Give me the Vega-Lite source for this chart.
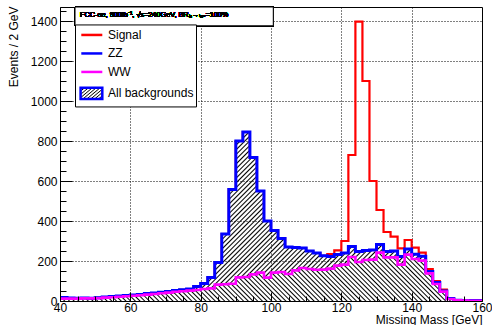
{
"$schema":"https://vega.github.io/schema/vega-lite/v6.json",
"width":422,"height":294,
"autosize":{"type":"none"},
"padding":{"left":60,"top":7,"right":10,"bottom":24},
"background":"#ffffff",
"config":{"view":{"stroke":"#000","strokeWidth":1},"font":"Liberation Sans",
"axis":{"labelFont":"Liberation Sans","titleFont":"Liberation Sans","labelColor":"#000","titleColor":"#000","tickColor":"#000","domainColor":"#000","titleFontWeight":"normal","labelFontSize":12,"titleFontSize":12,"labelFlush":false,"labelOverlap":false,"format":"d"}},
"data":{"values":[
{"m":40,"ZZ":17,"WW":12,"Signal":17},{"m":42,"ZZ":15,"WW":12,"Signal":15},{"m":44,"ZZ":14,"WW":12,"Signal":14},{"m":46,"ZZ":15,"WW":13,"Signal":15},{"m":48,"ZZ":14,"WW":13,"Signal":14},
{"m":50,"ZZ":16,"WW":14,"Signal":16},{"m":52,"ZZ":20,"WW":17,"Signal":20},{"m":54,"ZZ":22,"WW":19,"Signal":22},{"m":56,"ZZ":25,"WW":21,"Signal":25},{"m":58,"ZZ":28,"WW":24,"Signal":28},
{"m":60,"ZZ":30,"WW":26,"Signal":30},{"m":62,"ZZ":33,"WW":29,"Signal":33},{"m":64,"ZZ":37,"WW":32,"Signal":37},{"m":66,"ZZ":40,"WW":35,"Signal":40},{"m":68,"ZZ":44,"WW":39,"Signal":44},
{"m":70,"ZZ":48,"WW":42,"Signal":48},{"m":72,"ZZ":52,"WW":46,"Signal":52},{"m":74,"ZZ":56,"WW":49,"Signal":56},{"m":76,"ZZ":60,"WW":52,"Signal":60},{"m":78,"ZZ":73,"WW":55,"Signal":73},
{"m":80,"ZZ":87,"WW":60,"Signal":87},{"m":82,"ZZ":117,"WW":63,"Signal":117},{"m":84,"ZZ":192,"WW":82,"Signal":192},{"m":86,"ZZ":335,"WW":84,"Signal":335},{"m":88,"ZZ":558,"WW":86,"Signal":558},
{"m":90,"ZZ":800,"WW":118,"Signal":800},{"m":92,"ZZ":845,"WW":120,"Signal":845},{"m":94,"ZZ":717,"WW":133,"Signal":717},{"m":96,"ZZ":550,"WW":142,"Signal":550},{"m":98,"ZZ":400,"WW":117,"Signal":400},
{"m":100,"ZZ":352,"WW":142,"Signal":352},{"m":102,"ZZ":312,"WW":145,"Signal":312},{"m":104,"ZZ":270,"WW":135,"Signal":270},{"m":106,"ZZ":268,"WW":153,"Signal":268},{"m":108,"ZZ":265,"WW":165,"Signal":265},
{"m":110,"ZZ":250,"WW":160,"Signal":250},{"m":112,"ZZ":240,"WW":156,"Signal":240},{"m":114,"ZZ":226,"WW":157,"Signal":226},{"m":116,"ZZ":222,"WW":162,"Signal":235},{"m":118,"ZZ":232,"WW":177,"Signal":253},
{"m":120,"ZZ":240,"WW":182,"Signal":300},{"m":122,"ZZ":272,"WW":220,"Signal":730},{"m":124,"ZZ":248,"WW":195,"Signal":1397},{"m":126,"ZZ":252,"WW":205,"Signal":1100},{"m":128,"ZZ":255,"WW":207,"Signal":600},
{"m":130,"ZZ":282,"WW":242,"Signal":455},{"m":132,"ZZ":247,"WW":218,"Signal":345},{"m":134,"ZZ":250,"WW":218,"Signal":322},{"m":136,"ZZ":223,"WW":182,"Signal":263},{"m":138,"ZZ":260,"WW":232,"Signal":305},
{"m":140,"ZZ":234,"WW":210,"Signal":267},{"m":142,"ZZ":224,"WW":202,"Signal":242},{"m":144,"ZZ":148,"WW":138,"Signal":160},{"m":146,"ZZ":92,"WW":85,"Signal":100},{"m":148,"ZZ":50,"WW":47,"Signal":57},
{"m":150,"ZZ":13,"WW":10,"Signal":14},{"m":152,"ZZ":4,"WW":3,"Signal":4},{"m":154,"ZZ":3,"WW":2,"Signal":3},{"m":156,"ZZ":2,"WW":1,"Signal":2},{"m":158,"ZZ":2,"WW":1,"Signal":2},
{"m":160,"ZZ":2,"WW":1,"Signal":2}
]},
"resolve":{"axis":{"x":"independent","y":"independent"}},
"layer":[
{"mark":{"type":"area","interpolate":"step-after","fill":{"gradient":"linear","x1":0,"y1":0,"x2":1.2069,"y2":0.4834,"stops":[
{"offset":0,"color":"#000"},{"offset":0.0025,"color":"rgba(0,0,0,0)"},{"offset":0.0055,"color":"rgba(0,0,0,0)"},
{"offset":0.008,"color":"#000"},{"offset":0.0105,"color":"rgba(0,0,0,0)"},{"offset":0.0135,"color":"rgba(0,0,0,0)"},
{"offset":0.016,"color":"#000"},{"offset":0.0185,"color":"rgba(0,0,0,0)"},{"offset":0.0215,"color":"rgba(0,0,0,0)"},
{"offset":0.024,"color":"#000"},{"offset":0.0265,"color":"rgba(0,0,0,0)"},{"offset":0.0295,"color":"rgba(0,0,0,0)"},
{"offset":0.032,"color":"#000"},{"offset":0.0345,"color":"rgba(0,0,0,0)"},{"offset":0.0375,"color":"rgba(0,0,0,0)"},
{"offset":0.04,"color":"#000"},{"offset":0.0425,"color":"rgba(0,0,0,0)"},{"offset":0.0455,"color":"rgba(0,0,0,0)"},
{"offset":0.048,"color":"#000"},{"offset":0.0505,"color":"rgba(0,0,0,0)"},{"offset":0.0535,"color":"rgba(0,0,0,0)"},
{"offset":0.056,"color":"#000"},{"offset":0.0585,"color":"rgba(0,0,0,0)"},{"offset":0.0615,"color":"rgba(0,0,0,0)"},
{"offset":0.064,"color":"#000"},{"offset":0.0665,"color":"rgba(0,0,0,0)"},{"offset":0.0695,"color":"rgba(0,0,0,0)"},
{"offset":0.072,"color":"#000"},{"offset":0.0745,"color":"rgba(0,0,0,0)"},{"offset":0.0775,"color":"rgba(0,0,0,0)"},
{"offset":0.08,"color":"#000"},{"offset":0.0825,"color":"rgba(0,0,0,0)"},{"offset":0.0855,"color":"rgba(0,0,0,0)"},
{"offset":0.088,"color":"#000"},{"offset":0.0905,"color":"rgba(0,0,0,0)"},{"offset":0.0935,"color":"rgba(0,0,0,0)"},
{"offset":0.096,"color":"#000"},{"offset":0.0985,"color":"rgba(0,0,0,0)"},{"offset":0.1015,"color":"rgba(0,0,0,0)"},
{"offset":0.104,"color":"#000"},{"offset":0.1065,"color":"rgba(0,0,0,0)"},{"offset":0.1095,"color":"rgba(0,0,0,0)"},
{"offset":0.112,"color":"#000"},{"offset":0.1145,"color":"rgba(0,0,0,0)"},{"offset":0.1175,"color":"rgba(0,0,0,0)"},
{"offset":0.12,"color":"#000"},{"offset":0.1225,"color":"rgba(0,0,0,0)"},{"offset":0.1255,"color":"rgba(0,0,0,0)"},
{"offset":0.128,"color":"#000"},{"offset":0.1305,"color":"rgba(0,0,0,0)"},{"offset":0.1335,"color":"rgba(0,0,0,0)"},
{"offset":0.136,"color":"#000"},{"offset":0.1385,"color":"rgba(0,0,0,0)"},{"offset":0.1415,"color":"rgba(0,0,0,0)"},
{"offset":0.144,"color":"#000"},{"offset":0.1465,"color":"rgba(0,0,0,0)"},{"offset":0.1495,"color":"rgba(0,0,0,0)"},
{"offset":0.152,"color":"#000"},{"offset":0.1545,"color":"rgba(0,0,0,0)"},{"offset":0.1575,"color":"rgba(0,0,0,0)"},
{"offset":0.16,"color":"#000"},{"offset":0.1625,"color":"rgba(0,0,0,0)"},{"offset":0.1655,"color":"rgba(0,0,0,0)"},
{"offset":0.168,"color":"#000"},{"offset":0.1705,"color":"rgba(0,0,0,0)"},{"offset":0.1735,"color":"rgba(0,0,0,0)"},
{"offset":0.176,"color":"#000"},{"offset":0.1785,"color":"rgba(0,0,0,0)"},{"offset":0.1815,"color":"rgba(0,0,0,0)"},
{"offset":0.184,"color":"#000"},{"offset":0.1865,"color":"rgba(0,0,0,0)"},{"offset":0.1895,"color":"rgba(0,0,0,0)"},
{"offset":0.192,"color":"#000"},{"offset":0.1945,"color":"rgba(0,0,0,0)"},{"offset":0.1975,"color":"rgba(0,0,0,0)"},
{"offset":0.2,"color":"#000"},{"offset":0.2025,"color":"rgba(0,0,0,0)"},{"offset":0.2055,"color":"rgba(0,0,0,0)"},
{"offset":0.208,"color":"#000"},{"offset":0.2105,"color":"rgba(0,0,0,0)"},{"offset":0.2135,"color":"rgba(0,0,0,0)"},
{"offset":0.216,"color":"#000"},{"offset":0.2185,"color":"rgba(0,0,0,0)"},{"offset":0.2215,"color":"rgba(0,0,0,0)"},
{"offset":0.224,"color":"#000"},{"offset":0.2265,"color":"rgba(0,0,0,0)"},{"offset":0.2295,"color":"rgba(0,0,0,0)"},
{"offset":0.232,"color":"#000"},{"offset":0.2345,"color":"rgba(0,0,0,0)"},{"offset":0.2375,"color":"rgba(0,0,0,0)"},
{"offset":0.24,"color":"#000"},{"offset":0.2425,"color":"rgba(0,0,0,0)"},{"offset":0.2455,"color":"rgba(0,0,0,0)"},
{"offset":0.248,"color":"#000"},{"offset":0.2505,"color":"rgba(0,0,0,0)"},{"offset":0.2535,"color":"rgba(0,0,0,0)"},
{"offset":0.256,"color":"#000"},{"offset":0.2585,"color":"rgba(0,0,0,0)"},{"offset":0.2615,"color":"rgba(0,0,0,0)"},
{"offset":0.264,"color":"#000"},{"offset":0.2665,"color":"rgba(0,0,0,0)"},{"offset":0.2695,"color":"rgba(0,0,0,0)"},
{"offset":0.272,"color":"#000"},{"offset":0.2745,"color":"rgba(0,0,0,0)"},{"offset":0.2775,"color":"rgba(0,0,0,0)"},
{"offset":0.28,"color":"#000"},{"offset":0.2825,"color":"rgba(0,0,0,0)"},{"offset":0.2855,"color":"rgba(0,0,0,0)"},
{"offset":0.288,"color":"#000"},{"offset":0.2905,"color":"rgba(0,0,0,0)"},{"offset":0.2935,"color":"rgba(0,0,0,0)"},
{"offset":0.296,"color":"#000"},{"offset":0.2985,"color":"rgba(0,0,0,0)"},{"offset":0.3015,"color":"rgba(0,0,0,0)"},
{"offset":0.304,"color":"#000"},{"offset":0.3065,"color":"rgba(0,0,0,0)"},{"offset":0.3095,"color":"rgba(0,0,0,0)"},
{"offset":0.312,"color":"#000"},{"offset":0.3145,"color":"rgba(0,0,0,0)"},{"offset":0.3175,"color":"rgba(0,0,0,0)"},
{"offset":0.32,"color":"#000"},{"offset":0.3225,"color":"rgba(0,0,0,0)"},{"offset":0.3255,"color":"rgba(0,0,0,0)"},
{"offset":0.328,"color":"#000"},{"offset":0.3305,"color":"rgba(0,0,0,0)"},{"offset":0.3335,"color":"rgba(0,0,0,0)"},
{"offset":0.336,"color":"#000"},{"offset":0.3385,"color":"rgba(0,0,0,0)"},{"offset":0.3415,"color":"rgba(0,0,0,0)"},
{"offset":0.344,"color":"#000"},{"offset":0.3465,"color":"rgba(0,0,0,0)"},{"offset":0.3495,"color":"rgba(0,0,0,0)"},
{"offset":0.352,"color":"#000"},{"offset":0.3545,"color":"rgba(0,0,0,0)"},{"offset":0.3575,"color":"rgba(0,0,0,0)"},
{"offset":0.36,"color":"#000"},{"offset":0.3625,"color":"rgba(0,0,0,0)"},{"offset":0.3655,"color":"rgba(0,0,0,0)"},
{"offset":0.368,"color":"#000"},{"offset":0.3705,"color":"rgba(0,0,0,0)"},{"offset":0.3735,"color":"rgba(0,0,0,0)"},
{"offset":0.376,"color":"#000"},{"offset":0.3785,"color":"rgba(0,0,0,0)"},{"offset":0.3815,"color":"rgba(0,0,0,0)"},
{"offset":0.384,"color":"#000"},{"offset":0.3865,"color":"rgba(0,0,0,0)"},{"offset":0.3895,"color":"rgba(0,0,0,0)"},
{"offset":0.392,"color":"#000"},{"offset":0.3945,"color":"rgba(0,0,0,0)"},{"offset":0.3975,"color":"rgba(0,0,0,0)"},
{"offset":0.4,"color":"#000"},{"offset":0.4025,"color":"rgba(0,0,0,0)"},{"offset":0.4055,"color":"rgba(0,0,0,0)"},
{"offset":0.408,"color":"#000"},{"offset":0.4105,"color":"rgba(0,0,0,0)"},{"offset":0.4135,"color":"rgba(0,0,0,0)"},
{"offset":0.416,"color":"#000"},{"offset":0.4185,"color":"rgba(0,0,0,0)"},{"offset":0.4215,"color":"rgba(0,0,0,0)"},
{"offset":0.424,"color":"#000"},{"offset":0.4265,"color":"rgba(0,0,0,0)"},{"offset":0.4295,"color":"rgba(0,0,0,0)"},
{"offset":0.432,"color":"#000"},{"offset":0.4345,"color":"rgba(0,0,0,0)"},{"offset":0.4375,"color":"rgba(0,0,0,0)"},
{"offset":0.44,"color":"#000"},{"offset":0.4425,"color":"rgba(0,0,0,0)"},{"offset":0.4455,"color":"rgba(0,0,0,0)"},
{"offset":0.448,"color":"#000"},{"offset":0.4505,"color":"rgba(0,0,0,0)"},{"offset":0.4535,"color":"rgba(0,0,0,0)"},
{"offset":0.456,"color":"#000"},{"offset":0.4585,"color":"rgba(0,0,0,0)"},{"offset":0.4615,"color":"rgba(0,0,0,0)"},
{"offset":0.464,"color":"#000"},{"offset":0.4665,"color":"rgba(0,0,0,0)"},{"offset":0.4695,"color":"rgba(0,0,0,0)"},
{"offset":0.472,"color":"#000"},{"offset":0.4745,"color":"rgba(0,0,0,0)"},{"offset":0.4775,"color":"rgba(0,0,0,0)"},
{"offset":0.48,"color":"#000"},{"offset":0.4825,"color":"rgba(0,0,0,0)"},{"offset":0.4855,"color":"rgba(0,0,0,0)"},
{"offset":0.488,"color":"#000"},{"offset":0.4905,"color":"rgba(0,0,0,0)"},{"offset":0.4935,"color":"rgba(0,0,0,0)"},
{"offset":0.496,"color":"#000"},{"offset":0.4985,"color":"rgba(0,0,0,0)"},{"offset":0.5015,"color":"rgba(0,0,0,0)"},
{"offset":0.504,"color":"#000"},{"offset":0.5065,"color":"rgba(0,0,0,0)"},{"offset":0.5095,"color":"rgba(0,0,0,0)"},
{"offset":0.512,"color":"#000"},{"offset":0.5145,"color":"rgba(0,0,0,0)"},{"offset":0.5175,"color":"rgba(0,0,0,0)"},
{"offset":0.52,"color":"#000"},{"offset":0.5225,"color":"rgba(0,0,0,0)"},{"offset":0.5255,"color":"rgba(0,0,0,0)"},
{"offset":0.528,"color":"#000"},{"offset":0.5305,"color":"rgba(0,0,0,0)"},{"offset":0.5335,"color":"rgba(0,0,0,0)"},
{"offset":0.536,"color":"#000"},{"offset":0.5385,"color":"rgba(0,0,0,0)"},{"offset":0.5415,"color":"rgba(0,0,0,0)"},
{"offset":0.544,"color":"#000"},{"offset":0.5465,"color":"rgba(0,0,0,0)"},{"offset":0.5495,"color":"rgba(0,0,0,0)"},
{"offset":0.552,"color":"#000"},{"offset":0.5545,"color":"rgba(0,0,0,0)"},{"offset":0.5575,"color":"rgba(0,0,0,0)"},
{"offset":0.56,"color":"#000"},{"offset":0.5625,"color":"rgba(0,0,0,0)"},{"offset":0.5655,"color":"rgba(0,0,0,0)"},
{"offset":0.568,"color":"#000"},{"offset":0.5705,"color":"rgba(0,0,0,0)"},{"offset":0.5735,"color":"rgba(0,0,0,0)"},
{"offset":0.576,"color":"#000"},{"offset":0.5785,"color":"rgba(0,0,0,0)"},{"offset":0.5815,"color":"rgba(0,0,0,0)"},
{"offset":0.584,"color":"#000"},{"offset":0.5865,"color":"rgba(0,0,0,0)"},{"offset":0.5895,"color":"rgba(0,0,0,0)"},
{"offset":0.592,"color":"#000"},{"offset":0.5945,"color":"rgba(0,0,0,0)"},{"offset":0.5975,"color":"rgba(0,0,0,0)"},
{"offset":0.6,"color":"#000"},{"offset":0.6025,"color":"rgba(0,0,0,0)"},{"offset":0.6055,"color":"rgba(0,0,0,0)"},
{"offset":0.608,"color":"#000"},{"offset":0.6105,"color":"rgba(0,0,0,0)"},{"offset":0.6135,"color":"rgba(0,0,0,0)"},
{"offset":0.616,"color":"#000"},{"offset":0.6185,"color":"rgba(0,0,0,0)"},{"offset":0.6215,"color":"rgba(0,0,0,0)"},
{"offset":0.624,"color":"#000"},{"offset":0.6265,"color":"rgba(0,0,0,0)"},{"offset":0.6295,"color":"rgba(0,0,0,0)"},
{"offset":0.632,"color":"#000"},{"offset":0.6345,"color":"rgba(0,0,0,0)"},{"offset":0.6375,"color":"rgba(0,0,0,0)"},
{"offset":0.64,"color":"#000"},{"offset":0.6425,"color":"rgba(0,0,0,0)"},{"offset":0.6455,"color":"rgba(0,0,0,0)"},
{"offset":0.648,"color":"#000"},{"offset":0.6505,"color":"rgba(0,0,0,0)"},{"offset":0.6535,"color":"rgba(0,0,0,0)"},
{"offset":0.656,"color":"#000"},{"offset":0.6585,"color":"rgba(0,0,0,0)"},{"offset":0.6615,"color":"rgba(0,0,0,0)"},
{"offset":0.664,"color":"#000"},{"offset":0.6665,"color":"rgba(0,0,0,0)"},{"offset":0.6695,"color":"rgba(0,0,0,0)"},
{"offset":0.672,"color":"#000"},{"offset":0.6745,"color":"rgba(0,0,0,0)"},{"offset":0.6775,"color":"rgba(0,0,0,0)"},
{"offset":0.68,"color":"#000"},{"offset":0.6825,"color":"rgba(0,0,0,0)"},{"offset":0.6855,"color":"rgba(0,0,0,0)"},
{"offset":0.688,"color":"#000"},{"offset":0.6905,"color":"rgba(0,0,0,0)"},{"offset":0.6935,"color":"rgba(0,0,0,0)"},
{"offset":0.696,"color":"#000"},{"offset":0.6985,"color":"rgba(0,0,0,0)"},{"offset":0.7015,"color":"rgba(0,0,0,0)"},
{"offset":0.704,"color":"#000"},{"offset":0.7065,"color":"rgba(0,0,0,0)"},{"offset":0.7095,"color":"rgba(0,0,0,0)"},
{"offset":0.712,"color":"#000"},{"offset":0.7145,"color":"rgba(0,0,0,0)"},{"offset":0.7175,"color":"rgba(0,0,0,0)"},
{"offset":0.72,"color":"#000"},{"offset":0.7225,"color":"rgba(0,0,0,0)"},{"offset":0.7255,"color":"rgba(0,0,0,0)"},
{"offset":0.728,"color":"#000"},{"offset":0.7305,"color":"rgba(0,0,0,0)"},{"offset":0.7335,"color":"rgba(0,0,0,0)"},
{"offset":0.736,"color":"#000"},{"offset":0.7385,"color":"rgba(0,0,0,0)"},{"offset":0.7415,"color":"rgba(0,0,0,0)"},
{"offset":0.744,"color":"#000"},{"offset":0.7465,"color":"rgba(0,0,0,0)"},{"offset":0.7495,"color":"rgba(0,0,0,0)"},
{"offset":0.752,"color":"#000"},{"offset":0.7545,"color":"rgba(0,0,0,0)"},{"offset":0.7575,"color":"rgba(0,0,0,0)"},
{"offset":0.76,"color":"#000"},{"offset":0.7625,"color":"rgba(0,0,0,0)"},{"offset":0.7655,"color":"rgba(0,0,0,0)"},
{"offset":0.768,"color":"#000"},{"offset":0.7705,"color":"rgba(0,0,0,0)"},{"offset":0.7735,"color":"rgba(0,0,0,0)"},
{"offset":0.776,"color":"#000"},{"offset":0.7785,"color":"rgba(0,0,0,0)"},{"offset":0.7815,"color":"rgba(0,0,0,0)"},
{"offset":0.784,"color":"#000"},{"offset":0.7865,"color":"rgba(0,0,0,0)"},{"offset":0.7895,"color":"rgba(0,0,0,0)"},
{"offset":0.792,"color":"#000"},{"offset":0.7945,"color":"rgba(0,0,0,0)"},{"offset":0.7975,"color":"rgba(0,0,0,0)"},
{"offset":0.8,"color":"#000"},{"offset":0.8025,"color":"rgba(0,0,0,0)"},{"offset":0.8055,"color":"rgba(0,0,0,0)"},
{"offset":0.808,"color":"#000"},{"offset":0.8105,"color":"rgba(0,0,0,0)"},{"offset":0.8135,"color":"rgba(0,0,0,0)"},
{"offset":0.816,"color":"#000"},{"offset":0.8185,"color":"rgba(0,0,0,0)"},{"offset":0.8215,"color":"rgba(0,0,0,0)"},
{"offset":0.824,"color":"#000"},{"offset":0.8265,"color":"rgba(0,0,0,0)"},{"offset":0.8295,"color":"rgba(0,0,0,0)"},
{"offset":0.832,"color":"#000"},{"offset":0.8345,"color":"rgba(0,0,0,0)"},{"offset":0.8375,"color":"rgba(0,0,0,0)"},
{"offset":0.84,"color":"#000"},{"offset":0.8425,"color":"rgba(0,0,0,0)"},{"offset":0.8455,"color":"rgba(0,0,0,0)"},
{"offset":0.848,"color":"#000"},{"offset":0.8505,"color":"rgba(0,0,0,0)"},{"offset":0.8535,"color":"rgba(0,0,0,0)"},
{"offset":0.856,"color":"#000"},{"offset":0.8585,"color":"rgba(0,0,0,0)"},{"offset":0.8615,"color":"rgba(0,0,0,0)"},
{"offset":0.864,"color":"#000"},{"offset":0.8665,"color":"rgba(0,0,0,0)"},{"offset":0.8695,"color":"rgba(0,0,0,0)"},
{"offset":0.872,"color":"#000"},{"offset":0.8745,"color":"rgba(0,0,0,0)"},{"offset":0.8775,"color":"rgba(0,0,0,0)"},
{"offset":0.88,"color":"#000"},{"offset":0.8825,"color":"rgba(0,0,0,0)"},{"offset":0.8855,"color":"rgba(0,0,0,0)"},
{"offset":0.888,"color":"#000"},{"offset":0.8905,"color":"rgba(0,0,0,0)"},{"offset":0.8935,"color":"rgba(0,0,0,0)"},
{"offset":0.896,"color":"#000"},{"offset":0.8985,"color":"rgba(0,0,0,0)"},{"offset":0.9015,"color":"rgba(0,0,0,0)"},
{"offset":0.904,"color":"#000"},{"offset":0.9065,"color":"rgba(0,0,0,0)"},{"offset":0.9095,"color":"rgba(0,0,0,0)"},
{"offset":0.912,"color":"#000"},{"offset":0.9145,"color":"rgba(0,0,0,0)"},{"offset":0.9175,"color":"rgba(0,0,0,0)"},
{"offset":0.92,"color":"#000"},{"offset":0.9225,"color":"rgba(0,0,0,0)"},{"offset":0.9255,"color":"rgba(0,0,0,0)"},
{"offset":0.928,"color":"#000"},{"offset":0.9305,"color":"rgba(0,0,0,0)"},{"offset":0.9335,"color":"rgba(0,0,0,0)"},
{"offset":0.936,"color":"#000"},{"offset":0.9385,"color":"rgba(0,0,0,0)"},{"offset":0.9415,"color":"rgba(0,0,0,0)"},
{"offset":0.944,"color":"#000"},{"offset":0.9465,"color":"rgba(0,0,0,0)"},{"offset":0.9495,"color":"rgba(0,0,0,0)"},
{"offset":0.952,"color":"#000"},{"offset":0.9545,"color":"rgba(0,0,0,0)"},{"offset":0.9575,"color":"rgba(0,0,0,0)"},
{"offset":0.96,"color":"#000"},{"offset":0.9625,"color":"rgba(0,0,0,0)"},{"offset":0.9655,"color":"rgba(0,0,0,0)"},
{"offset":0.968,"color":"#000"},{"offset":0.9705,"color":"rgba(0,0,0,0)"},{"offset":0.9735,"color":"rgba(0,0,0,0)"},
{"offset":0.976,"color":"#000"},{"offset":0.9785,"color":"rgba(0,0,0,0)"},{"offset":0.9815,"color":"rgba(0,0,0,0)"},
{"offset":0.984,"color":"#000"},{"offset":0.9865,"color":"rgba(0,0,0,0)"},{"offset":0.9895,"color":"rgba(0,0,0,0)"},
{"offset":0.992,"color":"#000"},{"offset":0.9945,"color":"rgba(0,0,0,0)"},{"offset":0.9975,"color":"rgba(0,0,0,0)"},
{"offset":1,"color":"#000"}]}},
"encoding":{"x":{"field":"m","type":"quantitative","scale":{"domain":[40,160],"nice":false,"zero":false},
"axis":{"orient":"bottom","values":[60,80,100,120,140],"grid":true,"gridDash":[1,2],"gridColor":"#000","gridWidth":1,"ticks":false,"labels":false,"domain":false,"title":null,"zindex":0}},
"y":{"field":"ZZ","type":"quantitative","scale":{"domain":[0,1470],"nice":false},
"axis":{"orient":"left","values":[200,400,600,800,1000,1200,1400],"grid":true,"gridDash":[1,2],"gridColor":"#000","gridWidth":1,"ticks":false,"labels":false,"domain":false,"title":null,"zindex":0}}}},
{"mark":{"type":"area","interpolate":"step-after","fill":{"gradient":"linear","x1":0,"y1":1,"x2":1.1002,"y2":0.8738,"stops":[
{"offset":0,"color":"#000"},{"offset":0.003,"color":"#fff"},{"offset":0.007,"color":"#fff"},
{"offset":0.01,"color":"#000"},{"offset":0.013,"color":"#fff"},{"offset":0.017,"color":"#fff"},
{"offset":0.02,"color":"#000"},{"offset":0.023,"color":"#fff"},{"offset":0.027,"color":"#fff"},
{"offset":0.03,"color":"#000"},{"offset":0.033,"color":"#fff"},{"offset":0.037,"color":"#fff"},
{"offset":0.04,"color":"#000"},{"offset":0.043,"color":"#fff"},{"offset":0.047,"color":"#fff"},
{"offset":0.05,"color":"#000"},{"offset":0.053,"color":"#fff"},{"offset":0.057,"color":"#fff"},
{"offset":0.06,"color":"#000"},{"offset":0.063,"color":"#fff"},{"offset":0.067,"color":"#fff"},
{"offset":0.07,"color":"#000"},{"offset":0.073,"color":"#fff"},{"offset":0.077,"color":"#fff"},
{"offset":0.08,"color":"#000"},{"offset":0.083,"color":"#fff"},{"offset":0.087,"color":"#fff"},
{"offset":0.09,"color":"#000"},{"offset":0.093,"color":"#fff"},{"offset":0.097,"color":"#fff"},
{"offset":0.1,"color":"#000"},{"offset":0.103,"color":"#fff"},{"offset":0.107,"color":"#fff"},
{"offset":0.11,"color":"#000"},{"offset":0.113,"color":"#fff"},{"offset":0.117,"color":"#fff"},
{"offset":0.12,"color":"#000"},{"offset":0.123,"color":"#fff"},{"offset":0.127,"color":"#fff"},
{"offset":0.13,"color":"#000"},{"offset":0.133,"color":"#fff"},{"offset":0.137,"color":"#fff"},
{"offset":0.14,"color":"#000"},{"offset":0.143,"color":"#fff"},{"offset":0.147,"color":"#fff"},
{"offset":0.15,"color":"#000"},{"offset":0.153,"color":"#fff"},{"offset":0.157,"color":"#fff"},
{"offset":0.16,"color":"#000"},{"offset":0.163,"color":"#fff"},{"offset":0.167,"color":"#fff"},
{"offset":0.17,"color":"#000"},{"offset":0.173,"color":"#fff"},{"offset":0.177,"color":"#fff"},
{"offset":0.18,"color":"#000"},{"offset":0.183,"color":"#fff"},{"offset":0.187,"color":"#fff"},
{"offset":0.19,"color":"#000"},{"offset":0.193,"color":"#fff"},{"offset":0.197,"color":"#fff"},
{"offset":0.2,"color":"#000"},{"offset":0.203,"color":"#fff"},{"offset":0.207,"color":"#fff"},
{"offset":0.21,"color":"#000"},{"offset":0.213,"color":"#fff"},{"offset":0.217,"color":"#fff"},
{"offset":0.22,"color":"#000"},{"offset":0.223,"color":"#fff"},{"offset":0.227,"color":"#fff"},
{"offset":0.23,"color":"#000"},{"offset":0.233,"color":"#fff"},{"offset":0.237,"color":"#fff"},
{"offset":0.24,"color":"#000"},{"offset":0.243,"color":"#fff"},{"offset":0.247,"color":"#fff"},
{"offset":0.25,"color":"#000"},{"offset":0.253,"color":"#fff"},{"offset":0.257,"color":"#fff"},
{"offset":0.26,"color":"#000"},{"offset":0.263,"color":"#fff"},{"offset":0.267,"color":"#fff"},
{"offset":0.27,"color":"#000"},{"offset":0.273,"color":"#fff"},{"offset":0.277,"color":"#fff"},
{"offset":0.28,"color":"#000"},{"offset":0.283,"color":"#fff"},{"offset":0.287,"color":"#fff"},
{"offset":0.29,"color":"#000"},{"offset":0.293,"color":"#fff"},{"offset":0.297,"color":"#fff"},
{"offset":0.3,"color":"#000"},{"offset":0.303,"color":"#fff"},{"offset":0.307,"color":"#fff"},
{"offset":0.31,"color":"#000"},{"offset":0.313,"color":"#fff"},{"offset":0.317,"color":"#fff"},
{"offset":0.32,"color":"#000"},{"offset":0.323,"color":"#fff"},{"offset":0.327,"color":"#fff"},
{"offset":0.33,"color":"#000"},{"offset":0.333,"color":"#fff"},{"offset":0.337,"color":"#fff"},
{"offset":0.34,"color":"#000"},{"offset":0.343,"color":"#fff"},{"offset":0.347,"color":"#fff"},
{"offset":0.35,"color":"#000"},{"offset":0.353,"color":"#fff"},{"offset":0.357,"color":"#fff"},
{"offset":0.36,"color":"#000"},{"offset":0.363,"color":"#fff"},{"offset":0.367,"color":"#fff"},
{"offset":0.37,"color":"#000"},{"offset":0.373,"color":"#fff"},{"offset":0.377,"color":"#fff"},
{"offset":0.38,"color":"#000"},{"offset":0.383,"color":"#fff"},{"offset":0.387,"color":"#fff"},
{"offset":0.39,"color":"#000"},{"offset":0.393,"color":"#fff"},{"offset":0.397,"color":"#fff"},
{"offset":0.4,"color":"#000"},{"offset":0.403,"color":"#fff"},{"offset":0.407,"color":"#fff"},
{"offset":0.41,"color":"#000"},{"offset":0.413,"color":"#fff"},{"offset":0.417,"color":"#fff"},
{"offset":0.42,"color":"#000"},{"offset":0.423,"color":"#fff"},{"offset":0.427,"color":"#fff"},
{"offset":0.43,"color":"#000"},{"offset":0.433,"color":"#fff"},{"offset":0.437,"color":"#fff"},
{"offset":0.44,"color":"#000"},{"offset":0.443,"color":"#fff"},{"offset":0.447,"color":"#fff"},
{"offset":0.45,"color":"#000"},{"offset":0.453,"color":"#fff"},{"offset":0.457,"color":"#fff"},
{"offset":0.46,"color":"#000"},{"offset":0.463,"color":"#fff"},{"offset":0.467,"color":"#fff"},
{"offset":0.47,"color":"#000"},{"offset":0.473,"color":"#fff"},{"offset":0.477,"color":"#fff"},
{"offset":0.48,"color":"#000"},{"offset":0.483,"color":"#fff"},{"offset":0.487,"color":"#fff"},
{"offset":0.49,"color":"#000"},{"offset":0.493,"color":"#fff"},{"offset":0.497,"color":"#fff"},
{"offset":0.5,"color":"#000"},{"offset":0.503,"color":"#fff"},{"offset":0.507,"color":"#fff"},
{"offset":0.51,"color":"#000"},{"offset":0.513,"color":"#fff"},{"offset":0.517,"color":"#fff"},
{"offset":0.52,"color":"#000"},{"offset":0.523,"color":"#fff"},{"offset":0.527,"color":"#fff"},
{"offset":0.53,"color":"#000"},{"offset":0.533,"color":"#fff"},{"offset":0.537,"color":"#fff"},
{"offset":0.54,"color":"#000"},{"offset":0.543,"color":"#fff"},{"offset":0.547,"color":"#fff"},
{"offset":0.55,"color":"#000"},{"offset":0.553,"color":"#fff"},{"offset":0.557,"color":"#fff"},
{"offset":0.56,"color":"#000"},{"offset":0.563,"color":"#fff"},{"offset":0.567,"color":"#fff"},
{"offset":0.57,"color":"#000"},{"offset":0.573,"color":"#fff"},{"offset":0.577,"color":"#fff"},
{"offset":0.58,"color":"#000"},{"offset":0.583,"color":"#fff"},{"offset":0.587,"color":"#fff"},
{"offset":0.59,"color":"#000"},{"offset":0.593,"color":"#fff"},{"offset":0.597,"color":"#fff"},
{"offset":0.6,"color":"#000"},{"offset":0.603,"color":"#fff"},{"offset":0.607,"color":"#fff"},
{"offset":0.61,"color":"#000"},{"offset":0.613,"color":"#fff"},{"offset":0.617,"color":"#fff"},
{"offset":0.62,"color":"#000"},{"offset":0.623,"color":"#fff"},{"offset":0.627,"color":"#fff"},
{"offset":0.63,"color":"#000"},{"offset":0.633,"color":"#fff"},{"offset":0.637,"color":"#fff"},
{"offset":0.64,"color":"#000"},{"offset":0.643,"color":"#fff"},{"offset":0.647,"color":"#fff"},
{"offset":0.65,"color":"#000"},{"offset":0.653,"color":"#fff"},{"offset":0.657,"color":"#fff"},
{"offset":0.66,"color":"#000"},{"offset":0.663,"color":"#fff"},{"offset":0.667,"color":"#fff"},
{"offset":0.67,"color":"#000"},{"offset":0.673,"color":"#fff"},{"offset":0.677,"color":"#fff"},
{"offset":0.68,"color":"#000"},{"offset":0.683,"color":"#fff"},{"offset":0.687,"color":"#fff"},
{"offset":0.69,"color":"#000"},{"offset":0.693,"color":"#fff"},{"offset":0.697,"color":"#fff"},
{"offset":0.7,"color":"#000"},{"offset":0.703,"color":"#fff"},{"offset":0.707,"color":"#fff"},
{"offset":0.71,"color":"#000"},{"offset":0.713,"color":"#fff"},{"offset":0.717,"color":"#fff"},
{"offset":0.72,"color":"#000"},{"offset":0.723,"color":"#fff"},{"offset":0.727,"color":"#fff"},
{"offset":0.73,"color":"#000"},{"offset":0.733,"color":"#fff"},{"offset":0.737,"color":"#fff"},
{"offset":0.74,"color":"#000"},{"offset":0.743,"color":"#fff"},{"offset":0.747,"color":"#fff"},
{"offset":0.75,"color":"#000"},{"offset":0.753,"color":"#fff"},{"offset":0.757,"color":"#fff"},
{"offset":0.76,"color":"#000"},{"offset":0.763,"color":"#fff"},{"offset":0.767,"color":"#fff"},
{"offset":0.77,"color":"#000"},{"offset":0.773,"color":"#fff"},{"offset":0.777,"color":"#fff"},
{"offset":0.78,"color":"#000"},{"offset":0.783,"color":"#fff"},{"offset":0.787,"color":"#fff"},
{"offset":0.79,"color":"#000"},{"offset":0.793,"color":"#fff"},{"offset":0.797,"color":"#fff"},
{"offset":0.8,"color":"#000"},{"offset":0.803,"color":"#fff"},{"offset":0.807,"color":"#fff"},
{"offset":0.81,"color":"#000"},{"offset":0.813,"color":"#fff"},{"offset":0.817,"color":"#fff"},
{"offset":0.82,"color":"#000"},{"offset":0.823,"color":"#fff"},{"offset":0.827,"color":"#fff"},
{"offset":0.83,"color":"#000"},{"offset":0.833,"color":"#fff"},{"offset":0.837,"color":"#fff"},
{"offset":0.84,"color":"#000"},{"offset":0.843,"color":"#fff"},{"offset":0.847,"color":"#fff"},
{"offset":0.85,"color":"#000"},{"offset":0.853,"color":"#fff"},{"offset":0.857,"color":"#fff"},
{"offset":0.86,"color":"#000"},{"offset":0.863,"color":"#fff"},{"offset":0.867,"color":"#fff"},
{"offset":0.87,"color":"#000"},{"offset":0.873,"color":"#fff"},{"offset":0.877,"color":"#fff"},
{"offset":0.88,"color":"#000"},{"offset":0.883,"color":"#fff"},{"offset":0.887,"color":"#fff"},
{"offset":0.89,"color":"#000"},{"offset":0.893,"color":"#fff"},{"offset":0.897,"color":"#fff"},
{"offset":0.9,"color":"#000"},{"offset":0.903,"color":"#fff"},{"offset":0.907,"color":"#fff"},
{"offset":0.91,"color":"#000"},{"offset":0.913,"color":"#fff"},{"offset":0.917,"color":"#fff"},
{"offset":0.92,"color":"#000"},{"offset":0.923,"color":"#fff"},{"offset":0.927,"color":"#fff"},
{"offset":0.93,"color":"#000"},{"offset":0.933,"color":"#fff"},{"offset":0.937,"color":"#fff"},
{"offset":0.94,"color":"#000"},{"offset":0.943,"color":"#fff"},{"offset":0.947,"color":"#fff"},
{"offset":0.95,"color":"#000"},{"offset":0.953,"color":"#fff"},{"offset":0.957,"color":"#fff"},
{"offset":0.96,"color":"#000"},{"offset":0.963,"color":"#fff"},{"offset":0.967,"color":"#fff"},
{"offset":0.97,"color":"#000"},{"offset":0.973,"color":"#fff"},{"offset":0.977,"color":"#fff"},
{"offset":0.98,"color":"#000"},{"offset":0.983,"color":"#fff"},{"offset":0.987,"color":"#fff"},
{"offset":0.99,"color":"#000"},{"offset":0.993,"color":"#fff"},{"offset":0.997,"color":"#fff"},
{"offset":1,"color":"#000"}]}},
"encoding":{"x":{"field":"m","type":"quantitative","axis":null},"y":{"field":"WW","type":"quantitative","axis":null}}},
{"mark":{"type":"line","interpolate":"step-after","strokeWidth":2.2},
"encoding":{"x":{"field":"m","type":"quantitative","axis":{"orient":"bottom","values":[40,60,80,100,120,140,160],"grid":false,"tickSize":-9,"labelPadding":10,"domain":true,"zindex":1,"title":"Missing Mass [GeV]","titleAnchor":"end","titleAlign":"right","titleX":422,"titleY":22,"titleBaseline":"alphabetic"}},
"y":{"field":"Signal","type":"quantitative","axis":{"orient":"left","values":[0,200,400,600,800,1000,1200,1400],"grid":false,"tickSize":-12,"labelPadding":15,"domain":true,"zindex":1,"title":"Events / 2 GeV","titleAnchor":"end","titleAlign":"right","titleAngle":270,"titleBaseline":"middle","titleX":-47,"titleY":-1}},
"color":{"datum":"Signal","type":"nominal","scale":{"domain":["Signal","ZZ","WW","All backgrounds"],"range":["#ff0000","#0000ff","#ff00ff","#0000ff"]},
"legend":{"orient":"none","legendX":15,"legendY":17.45,"title":null,"direction":"vertical","padding":2,"strokeColor":"#000","fillColor":"#fff","symbolSize":196,"symbolStrokeWidth":2.5,"labelFontSize":12,"labelFont":"Liberation Sans","labelColor":"#000","labelOffset":14,"rowPadding":3.5,"symbolType":"stroke",
"encode":{"symbols":{"update":{"shape":{"signal":"datum.value === 'All backgrounds' ? 'M-0.7,-0.8H2.4V0.8H-0.7Z' : 'M-0.6,0H2.4'"},"fill":{"value":{"gradient":"linear","x1":0,"y1":0,"x2":1.172,"y2":0.718,"stops":[{"offset":0,"color":"#000"},{"offset":0.035,"color":"rgba(0,0,0,0)"},{"offset":0.076,"color":"rgba(0,0,0,0)"},{"offset":0.111,"color":"#000"},{"offset":0.146,"color":"rgba(0,0,0,0)"},{"offset":0.187,"color":"rgba(0,0,0,0)"},{"offset":0.222,"color":"#000"},{"offset":0.257,"color":"rgba(0,0,0,0)"},{"offset":0.298,"color":"rgba(0,0,0,0)"},{"offset":0.333,"color":"#000"},{"offset":0.368,"color":"rgba(0,0,0,0)"},{"offset":0.409,"color":"rgba(0,0,0,0)"},{"offset":0.444,"color":"#000"},{"offset":0.479,"color":"rgba(0,0,0,0)"},{"offset":0.52,"color":"rgba(0,0,0,0)"},{"offset":0.556,"color":"#000"},{"offset":0.591,"color":"rgba(0,0,0,0)"},{"offset":0.632,"color":"rgba(0,0,0,0)"},{"offset":0.667,"color":"#000"},{"offset":0.702,"color":"rgba(0,0,0,0)"},{"offset":0.743,"color":"rgba(0,0,0,0)"},{"offset":0.778,"color":"#000"},{"offset":0.813,"color":"rgba(0,0,0,0)"},{"offset":0.854,"color":"rgba(0,0,0,0)"},{"offset":0.889,"color":"#000"},{"offset":0.924,"color":"rgba(0,0,0,0)"},{"offset":0.965,"color":"rgba(0,0,0,0)"},{"offset":1,"color":"#000"}]}}}}}
}
}
}
},
{"mark":{"type":"line","interpolate":"step-after","strokeWidth":3},
"encoding":{"x":{"field":"m","type":"quantitative","axis":{"orient":"bottom","values":[45,50,55,65,70,75,85,90,95,105,110,115,125,130,135,145,150,155],"tickSize":-5,"labels":false,"domain":false,"grid":false,"title":null,"zindex":1}},
"y":{"field":"ZZ","type":"quantitative","axis":{"orient":"left","values":[50,100,150,250,300,350,450,500,550,650,700,750,850,900,950,1050,1100,1150,1250,1300,1350,1450],"tickSize":-6,"labels":false,"domain":false,"grid":false,"title":null,"zindex":1}},
"color":{"datum":"ZZ","type":"nominal"}}},
{"mark":{"type":"line","interpolate":"step-after","strokeWidth":2.6},
"encoding":{"x":{"field":"m","type":"quantitative","axis":null},"y":{"field":"WW","type":"quantitative","axis":null},"color":{"datum":"WW","type":"nominal"}}},
{"mark":{"type":"rect","fill":"#fff","stroke":"#000","strokeWidth":1},
"encoding":{"x":{"datum":44.27,"type":"quantitative","axis":null},"x2":{"datum":100.65},"y":{"datum":1470,"type":"quantitative","axis":null},"y2":{"datum":1376}}},
{"mark":{"type":"text","align":"left","baseline":"middle","fontSize":7.3,"fontWeight":"normal","font":"Liberation Sans","color":"#000"},
"encoding":{"x":{"datum":45.7,"type":"quantitative","axis":null},"y":{"datum":1430,"type":"quantitative","axis":null},"text":{"value":"FCC-ee, 500fb⁻¹, √s=240GeV, BRₕ→ᵢₙᵥ=100%"}}}
]
}
